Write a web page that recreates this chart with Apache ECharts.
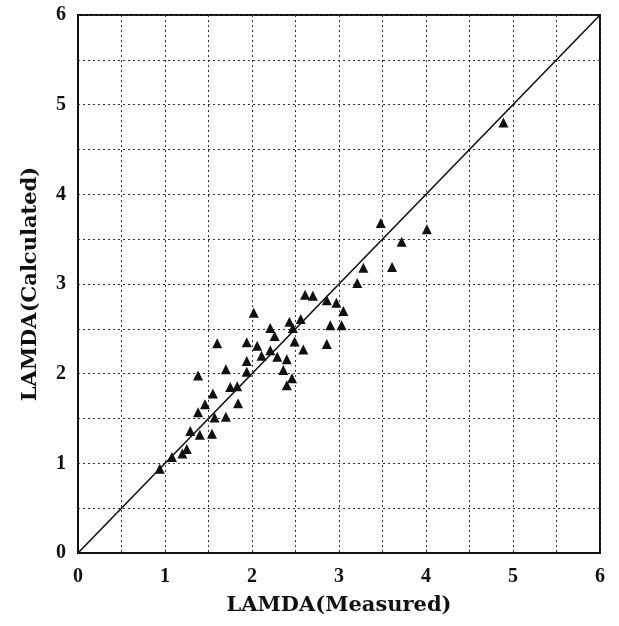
<!DOCTYPE html>
<html>
<head>
<meta charset="utf-8">
<script src="https://cdn.jsdelivr.net/npm/echarts@6/dist/echarts.min.js"></script>
<style>
html,body{margin:0;padding:0;background:#fff;}
#chart{width:619px;height:626px;}
</style>
</head>
<body>
<div id="chart"></div>
<script>
const measured = [0.94,1.08,1.20,1.25,1.29,1.40,1.54,1.38,1.46,1.55,1.57,1.70,1.75,1.83,1.84,1.38,1.70,1.60,1.94,2.06,1.94,2.11,1.94,2.02,2.21,2.26,2.21,2.29,2.40,2.36,2.46,2.40,2.43,2.56,2.47,2.49,2.59,2.61,2.70,2.86,2.97,3.05,2.90,3.03,2.86,3.21,3.28,3.61,3.48,3.72,4.01,4.89];
const calculated = [0.94,1.07,1.11,1.16,1.36,1.32,1.33,1.57,1.66,1.78,1.51,1.52,1.85,1.86,1.67,1.98,2.05,2.34,2.35,2.31,2.14,2.20,2.02,2.68,2.51,2.42,2.26,2.19,2.16,2.04,1.95,1.87,2.58,2.61,2.51,2.36,2.27,2.88,2.87,2.82,2.79,2.70,2.54,2.54,2.33,3.01,3.18,3.19,3.68,3.47,3.61,4.80];
const diagonal = [[0,0],[6,6]];
const tickLabels = ['0','1','2','3','4','5','6'];
const xName = 'LAMDA(Measured)';
const yName = 'LAMDA(Calculated)';

const points = measured.map((m,i)=>[m, calculated[i]]);
const font = '"Liberation Serif", "DejaVu Serif", serif';
const nameFont = '"DejaVu Serif", "Liberation Serif", serif';
const labelFmt = v => (Math.abs(v - Math.round(v)) < 1e-6 ? tickLabels[Math.round(v)] : '');

const chart = echarts.init(document.getElementById('chart'), null, {renderer:'canvas'});
const axisCommon = {
  type:'value', min:0, max:6, interval:0.5,
  nameLocation:'middle',
  nameTextStyle:{fontFamily:nameFont, fontWeight:'bold', fontSize:21, color:'#111'},
  axisLine:{show:true, lineStyle:{color:'#111', width:2}},
  axisTick:{show:false},
  axisLabel:{formatter:labelFmt, fontFamily:font, fontWeight:'bold', fontSize:20, color:'#111'},
  splitLine:{show:true, lineStyle:{color:'#333', width:1, type:[2,3]}}
};
chart.setOption({
  backgroundColor:'#fff',
  animation:false,
  grid:{left:78, right:19, top:15, bottom:73, show:true, borderColor:'#111', borderWidth:2, backgroundColor:'transparent'},
  xAxis:Object.assign({}, axisCommon, {name:xName, nameGap:42, axisLabel:Object.assign({}, axisCommon.axisLabel, {margin:14})}),
  yAxis:Object.assign({}, axisCommon, {name:yName, nameGap:37, axisLabel:Object.assign({}, axisCommon.axisLabel, {margin:12})}),
  series:[
    {type:'line', data:diagonal, symbol:'none', lineStyle:{color:'#111', width:1.6}, silent:true},
    {type:'scatter', data:points, symbol:'triangle', symbolSize:10, itemStyle:{color:'#111', opacity:1}}
  ]
});
</script>
</body>
</html>
